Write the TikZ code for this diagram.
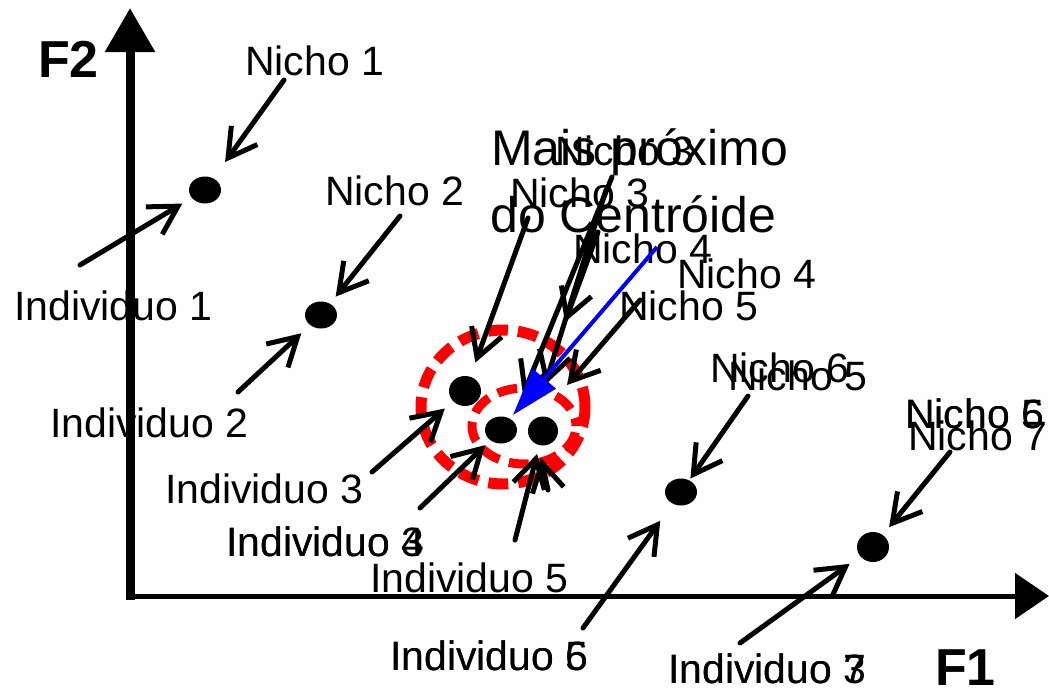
\documentclass[tikz,border=0pt]{standalone}
\usepackage{fontspec}
\setmainfont{Liberation Sans}
\usetikzlibrary{arrows.meta,shapes.geometric}

\begin{document}
\begin{tikzpicture}[x=1pt,y=-1pt,
    label node/.style={anchor=base west,inner sep=0pt,
      font=\fontsize{41}{49}\selectfont},
    axis label/.style={anchor=base west,inner sep=0pt,
      font=\fontsize{52}{60}\selectfont\bfseries},
    title node/.style={anchor=base west,inner sep=0pt,
      font=\fontsize{50}{60}\selectfont},
    point node/.style={ellipse,fill=black,inner sep=0pt,
      minimum width=32pt,minimum height=27pt},
    arr/.style={line width=5pt,line cap=round,
      -{Straight Barb[length=28pt,width=32pt]}},
    ring/.style={red,line width=11pt,dash pattern=on 20pt off 10pt}]

  \useasboundingbox (0,0) rectangle (1049,691);

  % axes
  \coordinate (O) at (130,600);
  \coordinate (Ytip) at (130,8);
  \coordinate (Xo) at (126,596);
  \coordinate (Xtip) at (1049,596);
  \draw[line width=9pt,-{Triangle[length=44pt,width=48pt]}] (O) -- (Ytip);
  \draw[line width=5pt,-{Triangle[length=34pt,width=45pt]}] (Xo) -- (Xtip);
  \node[axis label] (F2) at (38,77) {F2};
  \node[axis label] (F1) at (935,685) {F1};

  % rings round the centre
  \draw[ring] (503,407) ellipse [x radius=82pt, y radius=77pt];
  \draw[ring,line width=9pt,dash phase=12pt] (524,426) ellipse [x radius=52pt, y radius=38pt];

  % individuals
  \node[point node] (P1) at (205,190) {};
  \node[point node] (P2) at (321,315) {};
  \node[point node,minimum height=30pt] (P3) at (465,391) {};
  \node[point node] (P4) at (501,430) {};
  \node[point node,minimum width=30pt,minimum height=29pt] (P5) at (543,431) {};
  \node[point node] (P6) at (681,492) {};
  \node[point node,minimum height=30pt] (P7) at (873,547) {};

  % labels
  \node[label node] (N1) at (245,75) {Nicho 1};
  \node[label node] (N2) at (325,205) {Nicho 2};
  \node[label node] (N3) at (510,207) {Nicho 3};
  \node[title node] (MP) at (491,165) {Mais próximo};
  \node[title node] (DC) at (490,232) {do Centróide};
  \node[label node] (N3b) at (555,165) {Nicho 3};
  \node[label node] (N4) at (573,263) {Nicho 4};
  \node[label node] (N4b) at (677,288) {Nicho 4};
  \node[label node] (N5) at (619,320) {Nicho 5};
  \node[label node] (N6) at (710,382) {Nicho 6};
  \node[label node] (N6b) at (728,390) {Nicho 5};
  \node[label node] (N7a) at (905,428) {Nicho 6};
  \node[label node] (N7b) at (905,428) {Nicho 5};
  \node[label node] (N7) at (908,450) {Nicho 7};
  \node[label node] (I1) at (14,320) {Individuo 1};
  \node[label node] (I2) at (50,437) {Individuo 2};
  \node[label node] (I3) at (165,503) {Individuo 3};
  \node[label node] (I4) at (226,556) {Individuo 4};
  \node[label node] (I4b) at (226,556) {Individuo 3};
  \node[label node] (I5) at (370,592) {Individuo 5};
  \node[label node] (I6) at (390,670) {Individuo 6};
  \node[label node] (I6b) at (390,670) {Individuo 5};
  \node[label node] (I7) at (668,683) {Individuo 7};
  \node[label node] (I7b) at (668,683) {Individuo 3};

  % arrow starts
  \coordinate (a1) at (284,80);
  \coordinate (a2) at (80,265);
  \coordinate (a3) at (400,216);
  \coordinate (a4) at (238,392);
  \coordinate (a5) at (528,218);
  \coordinate (a8) at (372,472);
  \coordinate (a9) at (420,508);
  \coordinate (a10) at (515,540);
  \coordinate (a11) at (583,628);
  \coordinate (a12) at (748,396);
  \coordinate (a13) at (740,643);
  \coordinate (a14) at (950,452);
  % arrows in the cluster
  \coordinate (cA) at (612,177);  \coordinate (tA) at (523,395);
  \coordinate (cB) at (606,190);  \coordinate (tB) at (545,385);
  \coordinate (cC) at (598,232);  \coordinate (tC) at (565,322);
  \coordinate (cD) at (640,300);  \coordinate (tD) at (567,385);
  \coordinate (cE) at (548,490);  \coordinate (tE) at (541,458);
  \coordinate (cG) at (657,247);  \coordinate (tG) at (513,415);

  \path[arr]
    (a1) edge[shorten >=20pt] (P1)
    (a2) edge[shorten >=11pt] (P1)
    (a3) edge[shorten >=9pt] (P2)
    (a4) edge[shorten >=12pt] (P2)
    (a5) edge[shorten >=15pt] (P3)
    (a8) edge[shorten >=11pt] (P3)
    (a9) edge[shorten >=7pt] (P4)
    (a10) edge[shorten >=9pt] (P5)
    (a11) edge[shorten >=21pt] (P6)
    (a12) edge[shorten >=2pt] (P6)
    (a13) edge[shorten >=13pt] (P7)
    (a14) edge[shorten >=10pt] (P7)
    (cA) edge (tA)
    (cB) edge (tB)
    (cC) edge (tC)
    (cD) edge (tD)
    (cE) edge (tE);

  \draw[blue,line width=4pt,-{Triangle[length=48pt,width=30pt]}] (cG) -- (tG);
\end{tikzpicture}
\end{document}
